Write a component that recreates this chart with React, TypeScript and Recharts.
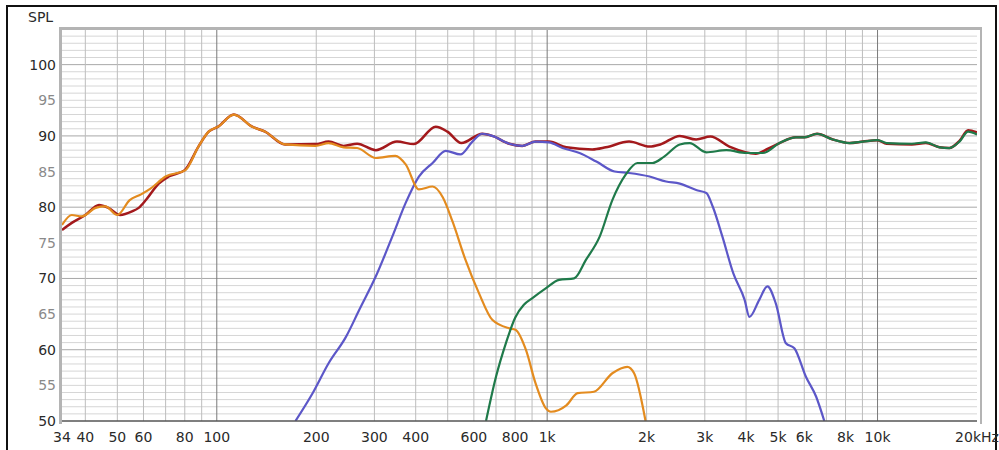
import React from 'react';
import { LineChart, Line, XAxis, YAxis, ReferenceLine } from 'recharts';

// frequency response: woofer, mid, tweeter and summed
const sumFreq = [34, 36.4, 40, 44, 47, 51, 55.4, 58, 61, 66.7, 71.5, 80, 88, 94.5, 101, 112.6, 128, 140, 161, 199, 218, 242, 266, 303, 351, 395, 460, 499, 550, 636, 682, 768, 841, 922, 1013, 1143, 1370, 1505, 1770, 2042, 2200, 2520, 2825, 3120, 3560, 4280, 4660, 5050, 5660, 6000, 6560, 7320, 8230, 9030, 10000, 10650, 12700, 14000, 15400, 16500, 17700, 18800, 20000];
const sumSpl = [76.8, 77.8, 78.9, 80.3, 79.9, 78.9, 79.4, 79.9, 81.0, 83.3, 84.3, 85.2, 88.5, 90.6, 91.3, 93.0, 91.3, 90.6, 88.8, 88.85, 89.2, 88.6, 88.9, 88.0, 89.2, 88.85, 91.3, 90.6, 89.0, 90.3, 90.0, 88.9, 88.6, 89.2, 89.2, 88.4, 88.1, 88.4, 89.2, 88.5, 88.8, 90.0, 89.5, 89.9, 88.5, 87.5, 88.2, 89.0, 89.8, 89.8, 90.3, 89.5, 89.0, 89.2, 89.4, 88.9, 88.8, 89.0, 88.4, 88.3, 89.3, 90.8, 90.5];

const wooferFreq = [34, 36.4, 39, 43, 46, 50, 54.5, 59, 63, 70, 80.4, 88, 94.5, 101, 112.6, 128, 140, 161, 199, 218, 242, 266, 303, 347, 373, 409, 450, 483, 517, 566, 622, 682, 768, 802, 862, 922, 990, 1026, 1143, 1237, 1385, 1575, 1748, 1833, 1985];
const wooferSpl = [77.5, 78.9, 78.7, 79.9, 80.1, 78.9, 81.0, 81.8, 82.6, 84.3, 85.2, 88.5, 90.6, 91.3, 93.0, 91.3, 90.6, 88.8, 88.6, 89.0, 88.4, 88.3, 86.9, 87.2, 86.0, 82.5, 82.9, 81.4, 78.0, 72.6, 67.9, 64.2, 63.0, 62.8, 60.0, 55.3, 51.8, 51.3, 52.2, 53.9, 54.1, 56.7, 57.6, 56.7, 50];

const midFreq = [173, 195, 218, 246, 270, 303, 340, 373, 409, 450, 493, 546, 594, 636, 682, 768, 841, 922, 1013, 1113, 1253, 1409, 1600, 1770, 2042, 2290, 2520, 2825, 3032, 3170, 3390, 3660, 3960, 4094, 4385, 4640, 4920, 5280, 5600, 6070, 6520, 6900];
const midSpl = [50, 53.9, 58.1, 61.8, 65.6, 70.3, 75.9, 80.6, 84.3, 86.2, 87.9, 87.4, 89.2, 90.3, 90.0, 88.9, 88.6, 89.2, 89.1, 88.3, 87.6, 86.4, 85.0, 84.8, 84.3, 83.6, 83.3, 82.4, 82.0, 80.1, 75.9, 70.7, 67.0, 64.6, 67.0, 68.9, 66.5, 60.9, 60.2, 56.2, 53.4, 50];

const tweeterFreq = [653, 700, 751, 800, 850, 900, 990, 1087, 1207, 1310, 1443, 1575, 1730, 1875, 2083, 2260, 2520, 2700, 3030, 3485, 4010, 4495, 5050, 5660, 6000, 6560, 7320, 8230, 9030, 10000, 10650, 12700, 14000, 15400, 16500, 17700, 18800, 20000];
const tweeterSpl = [50, 56.2, 61.0, 64.5, 66.3, 67.2, 68.6, 69.8, 70.0, 72.6, 75.9, 81.0, 84.6, 86.2, 86.2, 87.1, 88.8, 89.0, 87.7, 88.0, 87.6, 87.6, 89.0, 89.8, 89.8, 90.3, 89.5, 89.0, 89.2, 89.4, 89.0, 88.9, 89.1, 88.4, 88.3, 89.2, 90.6, 90.2];

const xTicks = [34, 40, 50, 60, 80, 100, 200, 300, 400, 600, 800, 1000, 2000, 3000, 4000, 5000, 6000, 8000, 10000, 20000];
const yTicks = [50, 55, 60, 65, 70, 75, 80, 85, 90, 95, 100];
const minorFreqs = [40, 50, 60, 70, 80, 90, 200, 300, 400, 500, 600, 700, 800, 900, 2000, 3000, 4000, 5000, 6000, 7000, 8000, 9000];
const majorFreqs = [100, 1000, 10000];
const minorLevels = Array.from({ length: 54 }, (_, i) => 51 + i).filter((v) => v % 10 !== 0);
const majorLevels = [60, 70, 80, 90, 100];

const toRows = (freq: number[], spl: number[]) => freq.map((f, i) => ({ freq: f, spl: spl[i] }));

const sumData = toRows(sumFreq, sumSpl);
const wooferData = toRows(wooferFreq, wooferSpl);
const midData = toRows(midFreq, midSpl);
const tweeterData = toRows(tweeterFreq, tweeterSpl);

const FONT = '"DejaVu Sans", Verdana, sans-serif';

const fmtFreq = (v: number) => (v === 20000 ? '20kHz' : v >= 1000 ? `${v / 1000}k` : `${v}`);

const YTick = (props: any) => {
  const { y, payload } = props;
  const major = payload.value % 10 === 0;
  return (
    <text x={56} y={y} dy={5} textAnchor="end" fontSize={14} fontFamily={FONT} fill={major ? '#2a2a2a' : '#8a8a8a'}>
      {payload.value}
    </text>
  );
};

export default function App() {
  return (
    <div style={{ position: 'fixed', left: 0, top: 0, width: 999, height: 450, background: '#fff', overflow: 'hidden' }}>
      <div style={{ position: 'absolute', left: 6, top: 5, width: 987, height: 460, border: '2px solid #111' }} />
      <div style={{ position: 'absolute', left: 28, top: 9, fontFamily: FONT, fontSize: 14, color: '#2a2a2a' }}>SPL</div>
      <LineChart width={999} height={450} margin={{ top: 29, right: 22, bottom: 0, left: 2 }}>
        <XAxis
          dataKey="freq"
          type="number"
          scale="log"
          domain={[34, 20000]}
          allowDataOverflow
          ticks={xTicks}
          tickFormatter={fmtFreq}
          tickLine={false}
          tickMargin={5}
          height={29}
          axisLine={{ stroke: '#555', strokeWidth: 1.5 }}
          tick={{ fontSize: 14, fontFamily: FONT, fill: '#2a2a2a' }}
          interval={0}
        />
        <YAxis
          type="number"
          domain={[50, 105]}
          allowDataOverflow
          ticks={yTicks}
          width={60}
          axisLine={false}
          tickLine={false}
          tick={<YTick />}
          interval={0}
        />
        {minorLevels.map((v) => (
          <ReferenceLine key={`hm${v}`} y={v} stroke="#d6d6d6" strokeWidth={1} />
        ))}
        {majorLevels.map((v) => (
          <ReferenceLine key={`hM${v}`} y={v} stroke="#a8a8a8" strokeWidth={1} />
        ))}
        {minorFreqs.map((f) => (
          <ReferenceLine key={`vm${f}`} x={f} stroke="#bdbdbd" strokeWidth={1} />
        ))}
        {majorFreqs.map((f) => (
          <ReferenceLine key={`vM${f}`} x={f} stroke="#7a7a7a" strokeWidth={1} />
        ))}
        <Line data={sumData} dataKey="spl" type="monotone" stroke="#a3191c" strokeWidth={2.5} dot={false} isAnimationActive={false} />
        <Line data={midData} dataKey="spl" type="monotone" stroke="#5c57c8" strokeWidth={2.2} dot={false} isAnimationActive={false} />
        <Line data={wooferData} dataKey="spl" type="monotone" stroke="#e38b1f" strokeWidth={2.2} dot={false} isAnimationActive={false} />
        <Line data={tweeterData} dataKey="spl" type="monotone" stroke="#1f7a4a" strokeWidth={2.2} dot={false} isAnimationActive={false} />
      </LineChart>
      <div
        style={{
          position: 'absolute',
          left: 59,
          top: 27,
          width: 918,
          height: 394,
          borderTop: '3px solid #b4b4b4',
          borderLeft: '3px solid #b4b4b4',
          borderRight: '2px solid #b4b4b4',
          pointerEvents: 'none',
        }}
      />
    </div>
  );
}
